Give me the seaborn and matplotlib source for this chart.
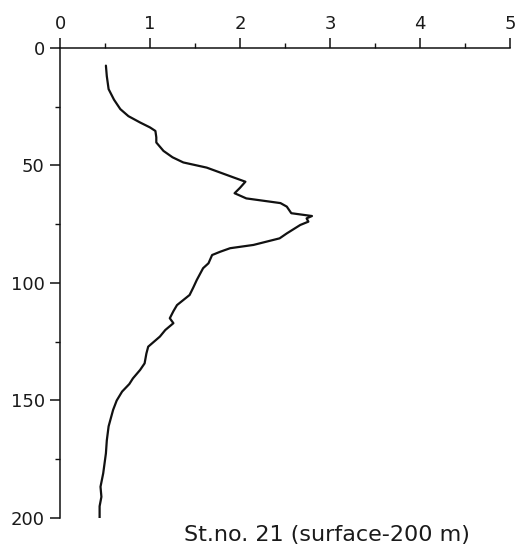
import numpy as np
import pandas as pd
import seaborn as sns
import matplotlib.pyplot as plt
from matplotlib.ticker import MultipleLocator

# profile
depth = [7.5, 12, 17.5, 22, 26, 29, 31.7, 33.8, 35.3, 38, 40.2, 43.8, 46.5, 48.7,
         50.9, 53, 55.1, 56.9, 59.5, 61.8, 64, 66, 67.5, 70.3, 71.5, 72.5, 73.9,
         75.3, 78.9, 81, 83.8, 85.2, 86.7, 88.1, 91.6, 93.7, 98.7, 102, 105.1,
         109.4, 112, 115, 117.1, 120, 122.8, 127.1, 130, 134.2, 137, 140.6, 143,
         146.2, 150, 154, 161, 167, 172.5, 181, 186.7, 191, 195, 200]
value = [0.51, 0.52, 0.54, 0.60, 0.67, 0.76, 0.89, 1.00, 1.06, 1.07, 1.07, 1.15,
         1.25, 1.37, 1.63, 1.78, 1.93, 2.06, 2.00, 1.94, 2.07, 2.45, 2.52, 2.57,
         2.80, 2.74, 2.76, 2.67, 2.52, 2.44, 2.15, 1.89, 1.78, 1.69, 1.65, 1.59,
         1.52, 1.48, 1.44, 1.30, 1.26, 1.22, 1.26, 1.17, 1.11, 0.98, 0.96, 0.94,
         0.89, 0.81, 0.77, 0.69, 0.63, 0.59, 0.54, 0.52, 0.51, 0.48, 0.45, 0.46,
         0.44, 0.44]
x_ticks = [0, 1, 2, 3, 4, 5]
y_ticks = [0, 50, 100, 150, 200]
caption = "St.no. 21 (surface-200 m)"

df = pd.DataFrame({'depth': depth, 'value': value})

sns.set_style('white')
plt.rcParams['font.family'] = ['DejaVu Sans']
plt.rcParams['text.color'] = '#1a1a1a'
plt.rcParams['xtick.labelcolor'] = '#1a1a1a'
plt.rcParams['ytick.labelcolor'] = '#1a1a1a'

fig = plt.figure(figsize=(5.32, 5.53), dpi=100)
ax = fig.add_axes([0.1128, 0.0633, 0.8458, 0.8499])

sns.lineplot(data=df, x='value', y='depth', sort=False, estimator=None,
             color='#111111', linewidth=1.6, ax=ax)

ax.set_xlim(0, 5)
ax.set_ylim(200, 0)
ax.set_xticks(x_ticks)
ax.set_yticks(y_ticks)
ax.xaxis.set_minor_locator(MultipleLocator(0.5))
ax.yaxis.set_minor_locator(MultipleLocator(25))
ax.xaxis.tick_top()
ax.set_xlabel('')
ax.set_ylabel('')

for side in ['right', 'bottom']:
    ax.spines[side].set_visible(False)
for side in ['left', 'top']:
    ax.spines[side].set_color('#111111')
    ax.spines[side].set_linewidth(1.1)

ax.tick_params(axis='both', which='major', direction='out', length=7, width=1.1,
               color='#111111', labelsize=13, pad=4)
ax.tick_params(axis='both', which='minor', direction='out', length=3.5, width=1.0,
               color='#111111')
ax.tick_params(axis='x', which='both', top=True, bottom=False)
ax.tick_params(axis='y', which='both', left=True, right=False)

fig.text(327 / 532, 1 - 535 / 553, caption, ha='center', va='center', fontsize=16)

fig.savefig('out.png', dpi=100)
